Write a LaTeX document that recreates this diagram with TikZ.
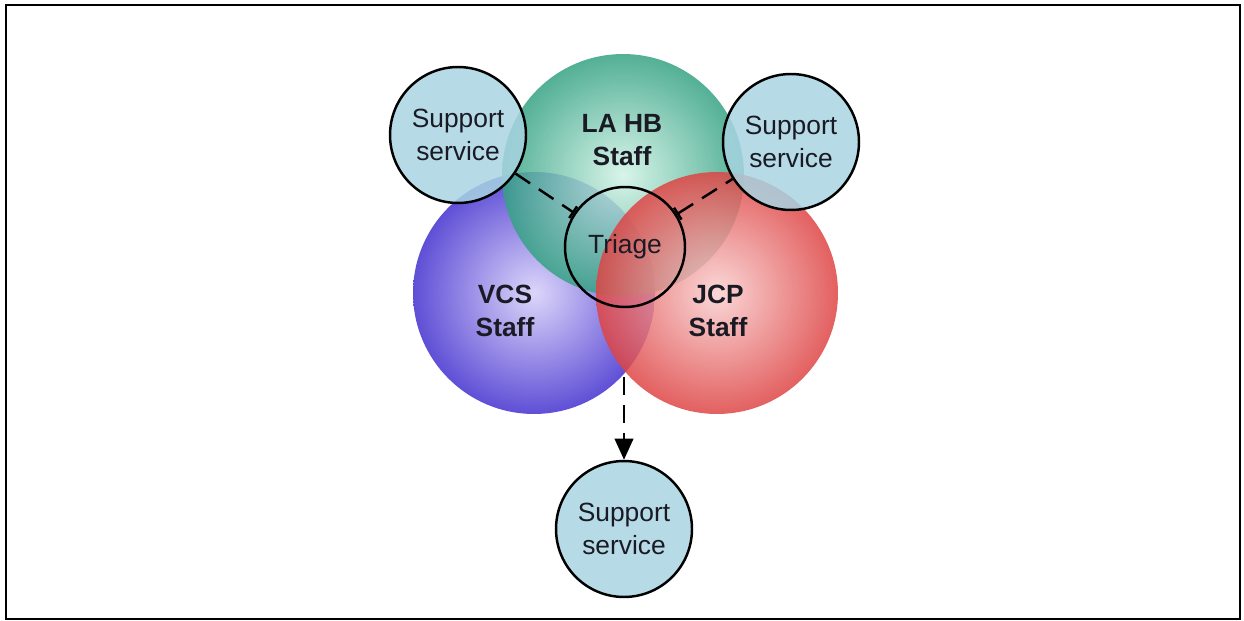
\documentclass[tikz,border=0pt]{standalone}
\usepackage{fontspec}
\setmainfont{Liberation Sans}
\usetikzlibrary{calc,positioning,arrows.meta}

\definecolor{lahbin}{HTML}{D2F3E6}
\definecolor{lahbout}{HTML}{35A283}
\definecolor{vcsin}{HTML}{DCD6FA}
\definecolor{vcsout}{HTML}{5F4FD6}
\definecolor{jcpin}{HTML}{FAD0D0}
\definecolor{jcpout}{HTML}{DE4444}
\definecolor{supfill}{HTML}{A9D4E2}
\definecolor{textdark}{HTML}{1A1A24}

\newcommand{\staff}[5][0.85]
	{
	\node[staffcircle, inner color=#4, outer color=#5, fill opacity=#1] (#2) at (#3) {};
	}

\tikzset{
	staffcircle/.style={circle, shade, minimum size=4.84cm, inner sep=0pt},
	stafftext/.style={align=center, text=textdark, font=\bfseries\fontsize{15}{18.7}\selectfont},
	support/.style={circle, draw=black, line width=1.4pt, fill=supfill, fill opacity=0.85,
		text opacity=1, text=textdark, minimum size=2.72cm, inner sep=0pt, align=center,
		font=\fontsize{15}{18.7}\selectfont},
	link/.style={line width=1.4pt, dash pattern=on 10pt off 6pt}
}

\begin{document}
\begin{tikzpicture}[x=0.02cm, y=-0.02cm]
\useasboundingbox (0,0) rectangle (1244,621);

% bingkai
\draw[line width=1.5pt] (6,5) rectangle (1240,619);

% lingkaran staf
\staff[1]{vcs}{534,293}{vcsin}{vcsout}
\staff{lahb}{623,175}{lahbin}{lahbout}
\staff[0.85]{jcp}{717,293}{jcpin}{jcpout}

% triage
\node[circle, draw=black, line width=1.4pt, minimum size=2.4cm, inner sep=0pt,
	text=textdark, font=\fontsize{15}{18.7}\selectfont] (triage) at (625,247) {Triage};

% support services
\node[support] (supA) at (458,135) {Support\\service};
\node[support] (supB) at (791,142) {Support\\service};
\node[support] (supC) at (624,529) {Support\\service};

% label staf
\node[stafftext] (lahbtext) at (622,140) {LA HB\\Staff};
\node[stafftext] (vcstext) at (505,311) {VCS\\Staff};
\node[stafftext] (jcptext) at (718,311) {JCP\\Staff};

% garis putus-putus
\coordinate (split) at (624,377);
\draw[link, -{Bar[width=8pt]}] (supA) -- (triage);
\draw[link, {Bar[width=8pt]}-] (triage) -- (supB);
\draw[link, -{Triangle[length=12pt,width=10.5pt]}] (split) -- (supC);

\end{tikzpicture}
\end{document}
